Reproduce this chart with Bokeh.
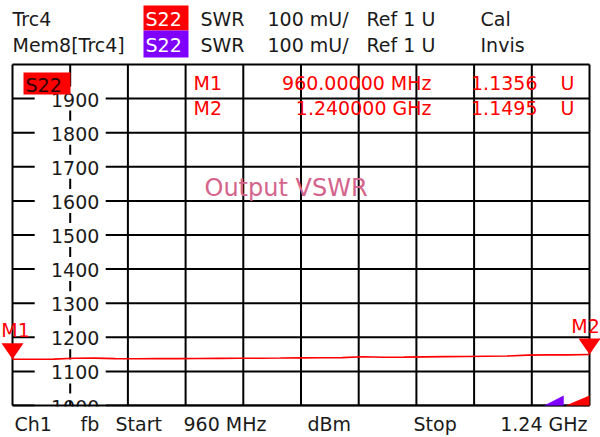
from bokeh.plotting import figure
from bokeh.models import Range1d
from bokeh.core.properties import value
from bokeh.embed import file_html
from bokeh.resources import INLINE

# ---------------- data ----------------
freq_mhz = [960, 970, 980, 990, 1000, 1010, 1020, 1030, 1040, 1050,
            1060, 1070, 1080, 1090, 1100, 1110, 1120, 1130, 1140, 1150,
            1160, 1170, 1180, 1190, 1200, 1210, 1220, 1230, 1240]
swr_mu = [1135.6, 1135.8, 1136.0, 1138.5, 1138.8, 1137.5, 1137.2, 1137.4, 1137.6, 1137.9,
          1138.1, 1138.4, 1138.7, 1139.1, 1139.6, 1140.0, 1140.5, 1142.8, 1141.6, 1141.9,
          1142.5, 1143.2, 1143.8, 1144.5, 1145.2, 1147.8, 1148.6, 1148.4, 1149.5]

y_ticks = [1000, 1100, 1200, 1300, 1400, 1500, 1600, 1700, 1800, 1900]
y_tick_labels = [str(t) for t in y_ticks]
y_top = 2000
x_start, x_stop, x_divs = 960, 1240, 10

marker_names = ["M1", "M2"]
marker_freq = [960, 1240]
marker_swr = [1135.6, 1149.5]
marker_freq_text = ["960.00000 MHz", "1.240000 GHz"]
marker_val_text = ["1.1356", "1.1495"]

mem_ramp_freq = [1218, 1227.5, 1227.5]
mem_ramp_swr = [1000, 1029, 1000]
trc_ramp_freq = [1228.5, 1240, 1240]
trc_ramp_swr = [1000, 1029, 1000]

header_row1 = ["Trc4", "S22", "SWR", "100 mU/", "Ref 1 U", "Cal"]
header_row2 = ["Mem8[Trc4]", "S22", "SWR", "100 mU/", "Ref 1 U", "Invis"]
footer = ["Ch1", "fb", "Start", "960 MHz", "dBm", "Stop", "1.24 GHz"]
title_text = "Output VSWR"

# ---------------- layout ----------------
W, H = 600, 437
kx = 577.0 / (x_stop - x_start)     # px per MHz
ky = 341.0 / (y_top - y_ticks[0])   # px per mU
x0 = x_start - 12.0 / kx
x1 = x0 + W / kx
y1 = y_top + 64.0 / ky
y0 = y1 - H / ky

def X(px):
    return x0 + px / kx

def Y(py):
    return y1 - py / ky

FONT = value("DejaVu Sans")
RED = "#ff0000"
PURPLE = "#8000ff"
INK = "#1a1a1a"

p = figure(width=W, height=H, output_backend="svg", toolbar_location=None,
           x_range=Range1d(x0, x1), y_range=Range1d(y0, y1),
           x_axis_type=None, y_axis_type=None, min_border=0,
           background_fill_color="white", border_fill_color="white")
p.outline_line_color = None
p.grid.visible = False

# grid lines
step = (x_stop - x_start) / x_divs
xt = [x_start + i * step for i in range(x_divs + 1)]
yt = y_ticks + [y_top]
p.segment(x0=xt, x1=xt, y0=[y_ticks[0]] * len(xt), y1=[y_top] * len(xt),
          line_color="black", line_width=2)
p.segment(x0=[x_start] * len(yt), x1=[x_stop] * len(yt), y0=yt, y1=yt,
          line_color="black", line_width=2)

# y tick labels inside the grid, on the 2nd vertical line
lab_x = x_start + step
p.rect(x=[lab_x] * len(y_ticks), y=y_ticks, width=71, height=24,
       width_units="screen", height_units="screen",
       fill_color="white", line_color=None)
p.text(x=[lab_x] * len(y_ticks), y=y_ticks, text=y_tick_labels, x_offset=5, y_offset=1,
       text_font=FONT, text_font_size="19px", text_align="center",
       text_baseline="middle", text_color=INK)
# the diagram clips the lowest label at its bottom edge
p.quad(left=[x0], right=[x1], top=[Y(406)], bottom=[y0],
       fill_color="white", line_color=None)
p.segment(x0=[x_start], x1=[x_stop], y0=[y_ticks[0]], y1=[y_ticks[0]],
          line_color="black", line_width=2)
p.segment(x0=[lab_x], x1=[lab_x], y0=[y_ticks[0]], y1=[Y(400)],
          line_color="black", line_width=2)

# S22 tag in the diagram
p.quad(left=[X(23)], right=[X(70)], top=[Y(72)], bottom=[Y(94)],
       fill_color=RED, line_color=None)
p.text(x=[X(25)], y=[Y(84)], text=["S22"], text_font=FONT, text_font_size="19px",
       text_baseline="middle", text_color="#300000")

# marker readout
for i, (nm, ft, vt) in enumerate(zip(marker_names, marker_freq_text, marker_val_text)):
    yy = Y(82 + 25 * i)
    p.text(x=[X(193)], y=[yy], text=[nm], text_font=FONT, text_font_size="19px",
           text_baseline="middle", text_color=RED)
    p.text(x=[X(431)], y=[yy], text=[ft], text_font=FONT, text_font_size="19px",
           text_baseline="middle", text_align="right", text_color=RED)
    p.text(x=[X(537)], y=[yy], text=[vt], text_font=FONT, text_font_size="19px",
           text_baseline="middle", text_align="right", text_color=RED)
    p.text(x=[X(560)], y=[yy], text=["U"], text_font=FONT, text_font_size="19px",
           text_baseline="middle", text_color=RED)

# title inside
p.text(x=[X(204)], y=[Y(187)], text=[title_text], text_font=FONT,
       text_font_size="24px", text_baseline="middle", text_color="#d4648c")

# trace
p.line(freq_mhz, swr_mu, line_color=RED, line_width=1.6)

# ramps at bottom right
p.patch(mem_ramp_freq, mem_ramp_swr, fill_color=PURPLE, line_color=None)
p.patch(trc_ramp_freq, trc_ramp_swr, fill_color=RED, line_color=None)

# marker triangles
hw, th = 11.0 / kx, 16.0 / ky
tri_xs = [[f - hw, f + hw, f] for f in marker_freq]
tri_ys = [[v + th, v + th, v] for v in marker_swr]
p.patches(tri_xs, tri_ys, fill_color=RED, line_color=None)
p.text(x=marker_freq, y=[v + th for v in marker_swr], text=marker_names,
       x_offset=[3, -4], y_offset=-2, text_font=FONT, text_font_size="19px",
       text_align="center", text_baseline="bottom", text_color=RED)

# header
hdr_x = [12, 145, 200, 267, 366, 480]
for row, (texts, yc, box) in enumerate([(header_row1, 18, RED), (header_row2, 44, PURPLE)]):
    top, bot = (5, 30) if row == 0 else (30, 57)
    p.quad(left=[X(143)], right=[X(188)], top=[Y(top)], bottom=[Y(bot)],
           fill_color=box, line_color=None)
    for t, hx in zip(texts, hdr_x):
        col = "white" if t == "S22" else INK
        p.text(x=[X(hx)], y=[Y(yc)], text=[t], text_font=FONT, text_font_size="19px",
               text_baseline="middle", text_color=col)

# footer
ft_x = [14, 80, 115, 183, 307, 413]
for t, fx in zip(footer[:-1], ft_x):
    p.text(x=[X(fx)], y=[Y(423)], text=[t], text_font=FONT, text_font_size="19px",
           text_baseline="middle", text_color=INK)
p.text(x=[X(587)], y=[Y(423)], text=[footer[-1]], text_font=FONT, text_font_size="19px",
       text_baseline="middle", text_align="right", text_color=INK)

open("out.html", "w").write(file_html(p, INLINE))
